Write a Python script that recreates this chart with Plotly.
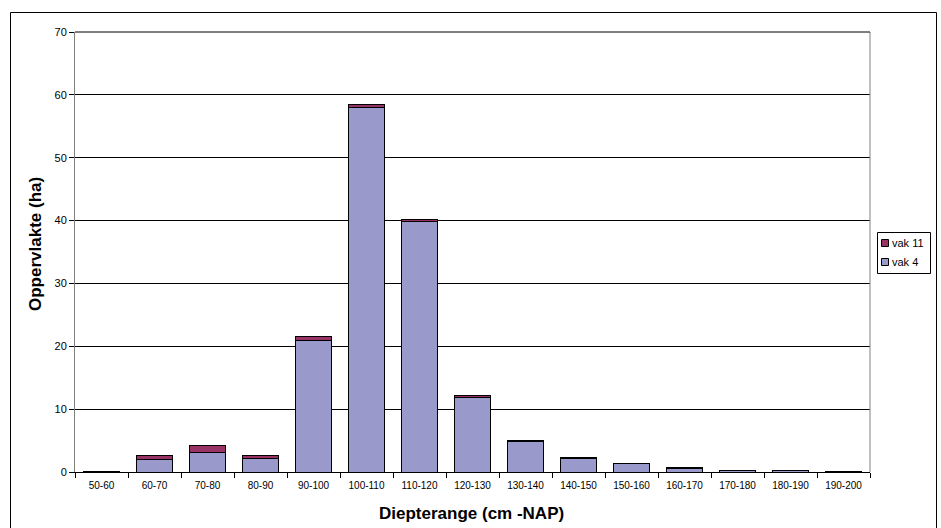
import plotly.graph_objects as go

categories = ["50-60", "60-70", "70-80", "80-90", "90-100", "100-110", "110-120",
              "120-130", "130-140", "140-150", "150-160", "160-170", "170-180",
              "180-190", "190-200"]
vak4 = [0.1, 2.0, 3.1, 2.2, 21.0, 58.0, 39.8, 11.8, 4.9, 2.2, 1.3, 0.6, 0.25, 0.25, 0.1]
vak11 = [0.05, 0.55, 1.1, 0.45, 0.5, 0.5, 0.3, 0.3, 0.1, 0.1, 0.03, 0.05, 0.02, 0.02, 0.01]
y_ticks = [0, 10, 20, 30, 40, 50, 60, 70]
series_names = ["vak 4", "vak 11"]
series_colors = ["#9999CC", "#993366"]

L, R, T, B = 75, 71, 32, 56
W, H = 941, 528
pw, ph = W - L - R, H - T - B

def px_x(p):
    return (p - L) / pw

def px_y(p):
    return (H - B - p) / ph

fig = go.Figure()
for name, vals, col in zip(series_names, [vak4, vak11], series_colors):
    fig.add_trace(go.Bar(x=categories, y=vals, name=name, showlegend=False,
                         marker=dict(color=col, line=dict(color="#000000", width=1))))

shapes = [
    dict(type="line", xref="paper", yref="paper", x0=1, x1=1, y0=0, y1=1,
         line=dict(color="#808080", width=1)),
    dict(type="line", xref="paper", yref="paper", x0=0, x1=1, y0=1, y1=1,
         line=dict(color="#000000", width=1)),
    # outer chart border
    dict(type="line", xref="paper", yref="paper", x0=px_x(10.5), x1=px_x(936.5),
         y0=px_y(12.5), y1=px_y(12.5), line=dict(color="#000000", width=1)),
    dict(type="line", xref="paper", yref="paper", x0=px_x(10.5), x1=px_x(10.5),
         y0=px_y(12.5), y1=px_y(528), line=dict(color="#000000", width=1)),
    dict(type="line", xref="paper", yref="paper", x0=px_x(936.5), x1=px_x(936.5),
         y0=px_y(12.5), y1=px_y(528), line=dict(color="#000000", width=1)),
    # legend box
    dict(type="rect", xref="paper", yref="paper", x0=px_x(877.5), x1=px_x(930.5),
         y0=px_y(273.5), y1=px_y(232.5), line=dict(color="#000000", width=1),
         fillcolor="white"),
]
annotations = []
legend_rows = [("vak 11", "#993366", 243), ("vak 4", "#9999CC", 262)]
for name, col, yc in legend_rows:
    shapes.append(dict(type="rect", xref="paper", yref="paper",
                       x0=px_x(881.5), x1=px_x(888.5), y0=px_y(yc + 3.5), y1=px_y(yc - 3.5),
                       line=dict(color="#000000", width=1), fillcolor=col))
    annotations.append(dict(xref="paper", yref="paper", x=px_x(890), y=px_y(yc),
                            xanchor="left", yanchor="middle", text=name, showarrow=False,
                            font=dict(size=11, color="#000000")))

# axis titles as annotations for exact placement
annotations.append(dict(xref="paper", yref="paper", x=px_x(471), y=px_y(513),
                        xanchor="center", yanchor="middle", showarrow=False,
                        text="<b>Diepterange (cm -NAP)</b>", font=dict(size=17)))
annotations.append(dict(xref="paper", yref="paper", x=px_x(35), y=px_y(244),
                        xanchor="center", yanchor="middle", showarrow=False, textangle=-90,
                        text="<b>Oppervlakte (ha)</b>", font=dict(size=17)))

fig.update_layout(
    width=W, height=H,
    barmode="stack", bargap=0.32,
    margin=dict(l=L, r=R, t=T, b=B, autoexpand=False),
    paper_bgcolor="white", plot_bgcolor="white",
    font=dict(family="Liberation Sans, Arial, sans-serif", color="#000000"),
    showlegend=False,
    xaxis=dict(
        tickfont=dict(size=10), showgrid=False, showline=True, linecolor="#000000",
        linewidth=1, ticks="outside", ticklen=5, tickcolor="#000000",
        tickson="boundaries", mirror=False, ticklabelstandoff=4,
    ),
    yaxis=dict(
        range=[0, 70], tickvals=y_ticks, tickfont=dict(size=11),
        showgrid=True, gridcolor="#000000", gridwidth=1,
        showline=True, linecolor="#808080", linewidth=1,
        ticks="outside", ticklen=5, tickcolor="#000000", zeroline=False,
    ),
    shapes=shapes,
    annotations=annotations,
)

fig.write_html("out.html")
